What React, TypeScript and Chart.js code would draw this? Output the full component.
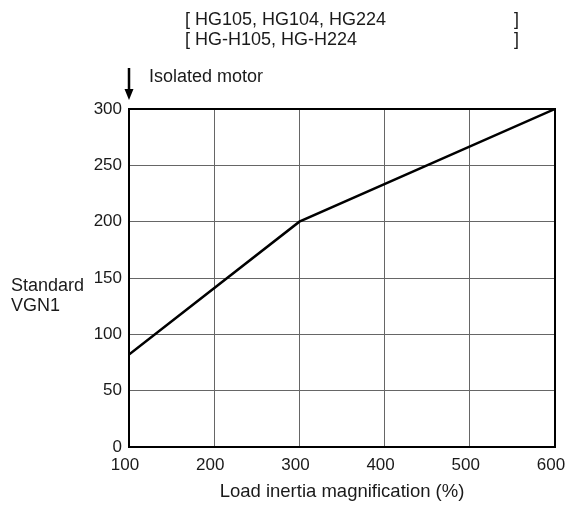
import React, { useEffect, useRef } from "react";
import { Chart, registerables } from "chart.js";

Chart.register(...registerables);

const loadInertia = [100, 300, 600];
const standardVGN1 = [82, 200, 300];
const xTicks = [100, 200, 300, 400, 500, 600];
const yTicks = [0, 50, 100, 150, 200, 250, 300];
const headerLine1 = "[ HG105, HG104, HG224";
const headerLine2 = "[ HG-H105, HG-H224";
const closeBracket = "]";
const arrowLabel = "Isolated motor";
const yLabelLines = ["Standard", "VGN1"];
const xTitle = "Load inertia magnification (%)";

const FONT = '"Liberation Sans", Arial, sans-serif';
const TEXT = "#1a1a1a";

const annotations = {
  id: "annotations",
  beforeDatasetsDraw(chart: any) {
    const { ctx, chartArea: a } = chart;
    ctx.save();
    ctx.strokeStyle = "#000";
    ctx.lineWidth = 2;
    ctx.strokeRect(a.left, a.top, a.right - a.left, a.bottom - a.top);
    ctx.restore();
  },
  afterDraw(chart: any) {
    const { ctx, scales } = chart;
    ctx.save();
    ctx.fillStyle = TEXT;
    ctx.font = `18px ${FONT}`;
    ctx.textBaseline = "middle";
    ctx.textAlign = "left";
    ctx.fillText(headerLine1, 185, 20);
    ctx.fillText(closeBracket, 514, 20);
    ctx.fillText(headerLine2, 185, 40);
    ctx.fillText(closeBracket, 514, 40);
    ctx.fillText(arrowLabel, 149, 77);
    ctx.fillText(yLabelLines[0], 11, 286);
    ctx.fillText(yLabelLines[1], 11, 306);
    // arrow pointing at the isolated motor position
    const ax = scales.x.getPixelForValue(loadInertia[0]);
    ctx.strokeStyle = "#000";
    ctx.lineWidth = 2.5;
    ctx.beginPath();
    ctx.moveTo(ax, 68);
    ctx.lineTo(ax, 90);
    ctx.stroke();
    ctx.fillStyle = "#000";
    ctx.beginPath();
    ctx.moveTo(ax - 4.5, 89);
    ctx.lineTo(ax + 4.5, 89);
    ctx.lineTo(ax, 100);
    ctx.closePath();
    ctx.fill();
    ctx.restore();
  },
};

export default function App() {
  const ref = useRef<HTMLCanvasElement>(null);
  useEffect(() => {
    if (!ref.current) return;
    const chart = new Chart(ref.current, {
      type: "line",
      data: {
        datasets: [
          {
            data: loadInertia.map((x, i) => ({ x, y: standardVGN1[i] })),
            borderColor: "#000",
            borderWidth: 2.5,
            pointRadius: 0,
            fill: false,
            tension: 0,
          },
        ],
      },
      options: {
        responsive: false,
        animation: false,
        layout: { padding: { top: 109, right: 10, left: 0, bottom: 0 } },
        plugins: { legend: { display: false }, tooltip: { enabled: false }, title: { display: false } },
        scales: {
          x: {
            type: "linear",
            min: xTicks[0],
            max: xTicks[xTicks.length - 1],
            afterBuildTicks: (s: any) => {
              s.ticks = xTicks.map((v) => ({ value: v }));
            },
            afterFit: (s: any) => {
              s.height = 62;
              s.paddingLeft = 0;
              s.paddingRight = 0;
            },
            grid: { color: "#666", lineWidth: 1, drawTicks: false },
            border: { display: false },
            ticks: {
              color: TEXT,
              padding: 8,
              labelOffset: -4,
              maxRotation: 0,
              font: { family: FONT, size: 17 },
            },
            title: {
              display: true,
              text: xTitle,
              color: TEXT,
              font: { family: FONT, size: 18.5 },
              padding: { top: 0, bottom: 6 },
            },
          },
          y: {
            type: "linear",
            min: yTicks[0],
            max: yTicks[yTicks.length - 1],
            afterBuildTicks: (s: any) => {
              s.ticks = yTicks.map((v) => ({ value: v }));
            },
            afterFit: (s: any) => {
              s.width = 129;
            },
            grid: { color: "#666", lineWidth: 1, drawTicks: false },
            border: { display: false },
            ticks: { color: TEXT, padding: 7, font: { family: FONT, size: 17 } },
          },
        },
      },
      plugins: [annotations],
    });
    return () => chart.destroy();
  }, []);
  return (
    <div style={{ position: "absolute", left: 0, top: 0, width: 565, height: 509 }}>
      <canvas ref={ref} width={565} height={509} />
    </div>
  );
}
